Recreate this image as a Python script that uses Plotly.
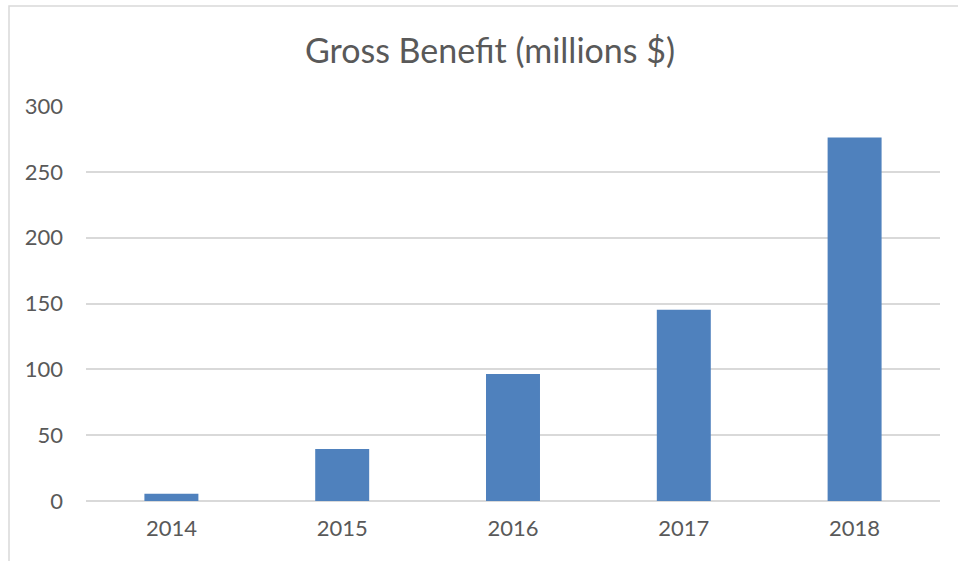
import plotly.graph_objects as go

years = ["2014", "2015", "2016", "2017", "2018"]
gross_benefit = [5.6, 39.4, 96.5, 145.3, 276.0]
y_ticks = [0, 50, 100, 150, 200, 250, 300]

W, H = 958, 561
L, R, T, B = 86, 18, 106, 60
pw, ph = W - L - R, H - T - B

def px_to_paper_x(px):
    return (px - L) / pw

def px_to_paper_y(py):
    return (H - B - py) / ph

fig = go.Figure(
    go.Bar(
        x=years,
        y=gross_benefit,
        marker=dict(color="#4F81BD", line=dict(width=0)),
    )
)

fig.update_layout(
    width=W,
    height=H,
    margin=dict(l=L, r=R, t=T, b=B),
    paper_bgcolor="white",
    plot_bgcolor="white",
    bargap=0.684,
    showlegend=False,
    title=dict(
        text="Gross Benefit (millions $)",
        x=490 / W,
        xanchor="center",
        xref="container",
        y=1 - 51 / H,
        yanchor="middle",
        yref="container",
        font=dict(family="Lato, Open Sans, sans-serif", size=34, color="#595959"),
    ),
    font=dict(family="Lato, Open Sans, sans-serif", color="#595959"),
    shapes=[
        dict(
            type="rect",
            xref="paper",
            yref="paper",
            x0=px_to_paper_x(9),
            x1=px_to_paper_x(990),
            y0=px_to_paper_y(600),
            y1=px_to_paper_y(6),
            line=dict(color="#D9D9D9", width=1.5),
            fillcolor="rgba(0,0,0,0)",
            layer="below",
        )
    ],
)

fig.update_yaxes(
    range=[0, 300],
    tickvals=y_ticks,
    showgrid=True,
    gridcolor="#D9D9D9",
    gridwidth=1.5,
    zeroline=True,
    zerolinecolor="#D9D9D9",
    zerolinewidth=1.5,
    showline=False,
    ticks="",
    ticklabelstandoff=22,
    tickfont=dict(family="Lato, Open Sans, sans-serif", size=22, color="#595959"),
    fixedrange=True,
)

fig.update_xaxes(
    showgrid=False,
    showline=False,
    ticks="",
    ticklabelstandoff=12,
    tickfont=dict(family="Lato, Open Sans, sans-serif", size=22, color="#595959"),
    fixedrange=True,
)

fig.write_html("out.html", config={"displayModeBar": False})
